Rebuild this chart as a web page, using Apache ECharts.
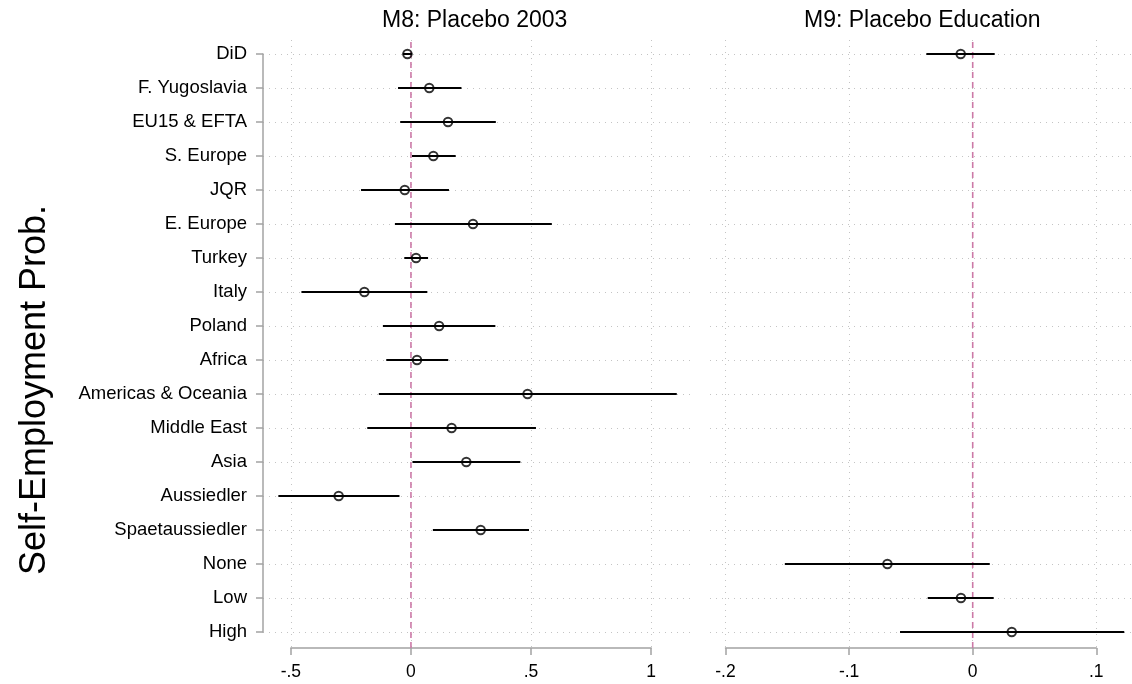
<!DOCTYPE html>
<html>
<head>
<meta charset="utf-8">
<script src="https://cdn.jsdelivr.net/npm/echarts@6/dist/echarts.min.js"></script>
<style>
	html, body { margin: 0; padding: 0; background: #fff; }
	#main { width: 1132px; height: 684px; }
</style>
</head>
<body>
<div id="main"></div>
<script>
// rows, top to bottom
var categories = ['DiD', 'F. Yugoslavia', 'EU15 & EFTA', 'S. Europe', 'JQR', 'E. Europe', 'Turkey', 'Italy',
	'Poland', 'Africa', 'Americas & Oceania', 'Middle East', 'Asia', 'Aussiedler', 'Spaetaussiedler',
	'None', 'Low', 'High'];

// M8: Placebo 2003
var m8Coef = [-0.015, 0.076, 0.154, 0.093, -0.026, 0.258, 0.021, -0.194, 0.117, 0.025, 0.485, 0.169, 0.230, -0.301, 0.290, null, null, null];
var m8Low  = [-0.034, -0.054, -0.045, 0.004, -0.208, -0.067, -0.028, -0.456, -0.117, -0.103, -0.134, -0.182, 0.006, -0.552, 0.091, null, null, null];
var m8High = [0.005, 0.210, 0.353, 0.186, 0.158, 0.586, 0.071, 0.068, 0.351, 0.155, 1.106, 0.520, 0.455, -0.048, 0.491, null, null, null];

// M9: Placebo Education
var m9Coef = [-0.0097, null, null, null, null, null, null, null, null, null, null, null, null, null, null, -0.069, -0.0095, 0.0316];
var m9Low  = [-0.0375, null, null, null, null, null, null, null, null, null, null, null, null, null, null, -0.152, -0.0364, -0.0588];
var m9High = [0.0178, null, null, null, null, null, null, null, null, null, null, null, null, null, null, 0.0138, 0.0170, 0.1226];

var refLine = [0];

var FONT = '"Liberation Sans", Arial, Helvetica, sans-serif';
var AXIS_GREY = '#a3a3a3';
var GRID_GREY = '#c4c4c4';
var PINK = '#cc79a7';

function ciData(low, high) {
	var out = [];
	for (var i = 0; i < low.length; i++) {
		if (low[i] != null) out.push([low[i], high[i], i]);
	}
	return out;
}

function pointData(coef) {
	var out = [];
	for (var i = 0; i < coef.length; i++) {
		if (coef[i] != null) out.push([coef[i], i]);
	}
	return out;
}

function refData(v) {
	return [[v[0], 0], [v[0], 1]];
}

// stata style: -.5, 0, .5, 1
function stataLabel(v) {
	var s = String(+(+v).toFixed(3));
	return s.replace('0.', '.');
}

function renderCI(params, api) {
	var a = api.coord([api.value(0), api.value(2)]);
	var b = api.coord([api.value(1), api.value(2)]);
	return {
		type: 'line',
		shape: { x1: a[0], y1: a[1], x2: b[0], y2: b[1] },
		style: { stroke: '#000', lineWidth: 2 }
	};
}

function rowAxis(grid, showLabels) {
	return {
		gridIndex: grid,
		type: 'category',
		data: categories,
		inverse: true,
		boundaryGap: false,
		axisLine: { show: showLabels, onZero: false, lineStyle: { color: AXIS_GREY, width: 1.5 } },
		axisTick: { show: showLabels, length: 7, lineStyle: { color: AXIS_GREY, width: 1.5 } },
		axisLabel: { show: showLabels, fontSize: 18.5, color: '#000', margin: 16, fontFamily: FONT },
		splitLine: { show: true, lineStyle: { color: GRID_GREY, type: [1, 5], width: 1 } }
	};
}

function tickAxis(grid, min, max, interval) {
	return {
		gridIndex: grid,
		type: 'value',
		min: min,
		max: max,
		interval: interval,
		axisLine: { show: true, onZero: false, lineStyle: { color: AXIS_GREY, width: 1.5 } },
		axisTick: { show: true, length: 7, lineStyle: { color: AXIS_GREY, width: 1.5 } },
		axisLabel: { fontSize: 17.5, color: '#000', margin: 15, fontFamily: FONT, formatter: stataLabel },
		splitLine: { show: true, lineStyle: { color: GRID_GREY, type: [1, 5], width: 1 } }
	};
}

var myChart = echarts.init(document.getElementById('main'));
var option = {
	animation: false,
	backgroundColor: '#fff',
	textStyle: { fontFamily: FONT },
	title: [
		{
			text: 'M8: Placebo 2003',
			left: 382, top: 9, padding: 0,
			textStyle: { fontSize: 23, fontWeight: 'normal', color: '#000', fontFamily: FONT }
		},
		{
			text: 'M9: Placebo Education',
			left: 804, top: 9, padding: 0,
			textStyle: { fontSize: 23, fontWeight: 'normal', color: '#000', fontFamily: FONT }
		}
	],
	graphic: [
		{
			type: 'text',
			x: 35, y: 390,
			rotation: Math.PI / 2,
			style: {
				text: 'Self-Employment Prob.',
				fontSize: 36,
				fontFamily: FONT,
				fill: '#000',
				align: 'center',
				verticalAlign: 'middle'
			}
		}
	],
	grid: [
		{ left: 263, top: 54, width: 427, height: 578 },        // M8 rows
		{ left: 290.85, top: 40, width: 360.3, height: 608 },   // M8 x axis
		{ left: 710, top: 54, width: 422, height: 578 },        // M9 rows
		{ left: 725.5, top: 40, width: 370.8, height: 608 }     // M9 x axis
	],
	xAxis: [
		{ gridIndex: 0, type: 'value', min: -0.6159, max: 1.1610, show: false },
		tickAxis(1, -0.5, 1, 0.5),
		{ gridIndex: 2, type: 'value', min: -0.21254, max: 0.12888, show: false },
		tickAxis(3, -0.2, 0.1, 0.1)
	],
	yAxis: [
		rowAxis(0, true),
		{ gridIndex: 1, type: 'value', min: 0, max: 1, show: false },
		rowAxis(2, false),
		{ gridIndex: 3, type: 'value', min: 0, max: 1, show: false }
	],
	series: [
		{
			name: 'zero M8', type: 'line', xAxisIndex: 1, yAxisIndex: 1,
			data: refData(refLine), symbol: 'none', z: 1,
			lineStyle: { color: PINK, width: 1.6, type: [6, 4] }
		},
		{
			name: 'zero M9', type: 'line', xAxisIndex: 3, yAxisIndex: 3,
			data: refData(refLine), symbol: 'none', z: 1,
			lineStyle: { color: PINK, width: 1.6, type: [6, 4] }
		},
		{
			name: 'CI M8', type: 'custom', xAxisIndex: 0, yAxisIndex: 0,
			data: ciData(m8Low, m8High), renderItem: renderCI, clip: false, z: 2
		},
		{
			name: 'CI M9', type: 'custom', xAxisIndex: 2, yAxisIndex: 2,
			data: ciData(m9Low, m9High), renderItem: renderCI, clip: false, z: 2
		},
		{
			name: 'coef M8', type: 'scatter', xAxisIndex: 0, yAxisIndex: 0,
			data: pointData(m8Coef), symbol: 'circle', symbolSize: 8.5, z: 3,
			itemStyle: { color: 'rgba(0,0,0,0)', borderColor: '#000', borderWidth: 2 }
		},
		{
			name: 'coef M9', type: 'scatter', xAxisIndex: 2, yAxisIndex: 2,
			data: pointData(m9Coef), symbol: 'circle', symbolSize: 8.5, z: 3,
			itemStyle: { color: 'rgba(0,0,0,0)', borderColor: '#000', borderWidth: 2 }
		}
	]
};
myChart.setOption(option);
</script>
</body>
</html>
